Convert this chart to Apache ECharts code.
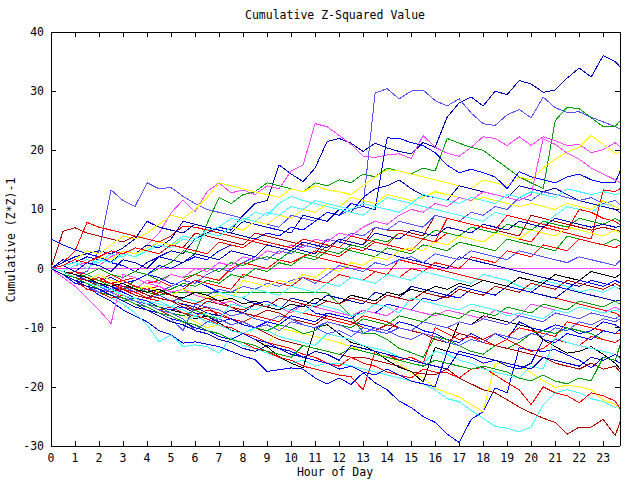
<!DOCTYPE html>
<html><head><meta charset="utf-8">
<script src="https://cdn.jsdelivr.net/npm/echarts@6/dist/echarts.min.js"></script>
<style>html,body{margin:0;padding:0;background:#fff}#c{width:640px;height:480px}#c svg path{shape-rendering:crispEdges}</style>
</head><body><div id="c"></div>
<script>
const hours = [0,0.5,1,1.5,2,2.5,3,3.5,4,4.5,5,5.5,6,6.5,7,7.5,8,8.5,9,9.5,10,10.5,11,11.5,12,12.5,13,13.5,14,14.5,15,15.5,16,16.5,17,17.5,18,18.5,19,19.5,20,20.5,21,21.5,22,22.5,23,23.5,23.7];
const xTickLabels = ['0','1','2','3','4','5','6','7','8','9','10','11','12','13','14','15','16','17','18','19','20','21','22','23'];
const yTickLabels = ['-30','-20','-10','0','10','20','30','40'];
const titleText = 'Cumulative Z-Squared Value';
const xName = 'Hour of Day';
const yName = 'Cumulative (Z*Z)-1';

const s01 = [0,-0.5,-1,-1.5,-2,-1,-1.5,-0.5,1,2,3,2.5,5,6,7,6.5,9,11,11.5,17.5,16,14.7,17,21.5,22,21.2,19.8,21.2,20.4,19.8,19.4,21.3,20.5,25.6,28,29,27.5,30,29.4,31.8,31.2,29.8,30.2,32.2,33.9,32.4,36,35,34.1];
const s02 = [0,-0.5,-1,-0.5,3,13.3,11.5,10.5,14.5,13.5,13.7,12.2,11,10,9.5,9,8.5,8,7.5,7,9,8.5,8,9.5,9,10,10.5,29.7,30.4,28.7,30,30.2,28.4,27.5,28.7,26.3,24.5,24.2,26,26.9,25.5,29,27.2,26.4,26.5,25.6,24.8,24,23.6];
const s03 = [0,-0.5,0.5,1,0.5,2,3,2.5,4,6,9.4,11.6,9.6,13,14.5,12.8,13.3,12.5,14,13.5,16.5,17.5,24.5,24,22.5,21,19,18.8,19.2,19.4,18.6,22.5,20.5,19.5,19,20.5,22.3,22,20.8,22.3,20.8,22.3,21.6,20.8,21,19.6,20.1,21.3,20.6];
const s04 = [0,-1,-2,-1.5,-3,-2.5,-3.5,-2,-1,0,1,3,2.5,7.6,12,11,12.5,13,14.5,14,13.5,13,14.5,14,15,14.5,16,15.5,17,16.5,16,17,16.5,22,21.2,20.5,20,18.5,17,15.5,14.5,13.5,25,27.3,27,25.5,24,24,25];
const s05 = [0,-1,-2.5,-3,-4.5,-5.5,-7,-8,-9,-10.5,-11.2,-12.6,-12.4,-12.8,-13.2,-14,-14.8,-15.4,-17.4,-17.1,-16.8,-17,-18.5,-19.5,-18.5,-19.6,-17.6,-19.3,-20.5,-22.4,-23.5,-25,-26,-28,-29.4,-25.5,-24.2,-20.2,-21,-13.4,-13.8,-14,-13.7,-14.6,-15.5,-16.8,-15,-15.5,-16];
const s06 = [0,-1,-2,-3,-4,-5,-6,-7.5,-9.5,-12.4,-11.2,-13.2,-12.9,-13.2,-14.3,-11.7,-13,-13.5,-14.3,-15,-16,-15.5,-16.5,-16,-16,-16.5,-17,-17.5,-18,-18.5,-19,-19.5,-20.5,-22,-22.5,-24,-25.3,-26.7,-27,-27.6,-26.8,-23,-21,-20.5,-21,-22,-22.5,-23.5,-23];
const s07 = [0,0.5,-0.5,-1,-2,-2.5,-3,-4,-3.5,-4.5,-5.5,-6,-7,-6.5,-8,-8.5,-9.5,-10,-11,-12,-12.5,-13,-13.5,-14,-14.5,-15,-15,-15.5,-16,-16.5,-17.5,-17.8,-18,-17,-18.5,-19.5,-20.5,-21,-22.2,-23.4,-24.4,-25.3,-26,-28,-26.8,-26.8,-25.5,-28.2,-26];
const s08 = [0,-1,-1.5,-2.5,-3,-4,-4.5,-5.5,-6,-7,-7.5,-8,-9,-10,-9.5,-10.5,-11,-12,-13,-10,-10.5,-11,-11.5,-12,-12.5,-13.2,-14,-14.5,-14.9,-16,-17.6,-18.5,-20.2,-21,-21.7,-23,-24.2,-16,-16,-16.5,-17.6,-19,-20.1,-19.7,-20,-20.5,-22.2,-23,-23.6];
const s09 = [0,-0.5,-1.5,-2,-3,-3.5,-4.5,-5,-5.5,-6.5,-7,-7.5,-8.5,-8,-9.2,-10.4,-11,-12,-13.2,-14.9,-16,-16.8,-10,-9.5,-11,-12.5,-13,-14,-15.5,-16.7,-17.4,-19.2,-13.3,-14,-9,-9.5,-8,-8.5,-9,-9.5,-10,-12,-13.2,-14.3,-14,-13.2,-14.5,-16,-17];
const s10 = [5,4,3.2,2.5,2,1,0.5,-0.5,-1,-1.5,-2.5,-3,-2,-3,-4,-4.5,-5,-6,-5.5,-6.5,-7,-6,-7.5,-8,-8.5,-9,-9.5,-10,-10.5,-9,-9.5,-10.5,-11,-12,-12.5,-11,-12,-11,-12,-9,-10,-10.5,-9.5,-10,-11,-10.5,-9,-9.5,-10];
const s11 = [0,0,0,0,0,0,0,0,0,0,0,0,0,0,0,0,0,0,0,0,0,0,0,0,0,0,0,0,0,0,0,0,0,0,0,0,0,0,0,0,0,0,0,0,0,0,0,0,0];
const s12 = [0,-0.5,-1,-2,-2.5,-3,-3.5,-3,-4,-4.5,-4.1,-4.1,-4.1,-4.1,-4.1,-4.1,-4.1,-4.1,-4.1,-4.1,-4.1,-4.1,-4.1,-4.1,-6,-8,-10.9,-11,-12,-13.5,-14.2,-15,-11.5,-12,-13,-14,-14.5,-13,-13.5,-12.5,-11,-10.5,-11,-10,-10.5,-11,-12,-12.5,-12];
const s13 = [0,6.3,6.9,6,5.5,5,4.5,5.5,5,4.5,4,3.5,6,5.5,5,4.5,4,6,5.5,5,4.5,4,3.5,3,5,4.5,4,7,6.5,6.5,6,5.5,9,8.5,8,7.5,7,6.5,6,5.5,9,8.5,8,7.5,7,6.5,7,6.5,6.3];
const s14 = [0,1,3,7.8,7,6.5,6,5.5,5,4.5,5.5,7.2,7,6.5,6,5.5,5,4.5,4,3.5,3,2.5,2,1.5,1,0.5,0,-0.5,-1,1.5,1,0.5,0,-0.5,-1,-1.5,-2,-2.5,-3,-3.5,-4,-4.5,-5,-5.5,-6,-6.5,-7,-7.5,-8];
const s15 = [0,1,2,2.5,3,2.5,3.5,5,8,7,6.5,6,7.5,7,6.5,6,5.5,5,4.5,4,3.5,3,2.5,5,4.5,4,3.5,3,2.5,2,1.5,1,0.5,0,2,1.5,1,0.5,0,-0.5,-1,-1.5,-2,-2.5,-3,-2,-2.5,-3,-3.5];
const s16 = [0,0.5,1.5,3,2.5,4,5.5,5,6,7.5,9,8.5,10,12,14.5,14,13.5,13,12.5,12,13.5,13,14,13.3,13,12.5,14,15.5,16.7,16.5,16,15.5,15,14.5,14,13.5,15,14.5,14,15.5,15,17,18.5,19.7,20.5,22.5,21,19.5,19.6];
const s17 = [0,-0.5,-1.5,-1,-2,-1.5,-2.5,-2,-1,0.5,0,1,2,1.5,3,4,3.5,5,6,5.5,7,6.5,8,9.5,9,11,10.5,10,22.1,22,21.3,20.8,19.6,17.5,16.2,16.8,16.2,15.5,13.5,16.4,15.5,15,14.5,15.5,16,15,14.5,14.5,16.4];
const s18 = [0,1.5,1,2,1.5,1,3,2.5,4,3.5,5,8,7.5,7,6.5,6,8,7.5,7,6.5,6,9,8.5,8,10,9.5,12,13.5,14,15,13.5,12.4,12,11.5,14,13.5,13,12.5,12,14,13.5,13,13.6,12.5,11.5,11,10.5,10,9.5];
const s19 = [0,-0.5,0.5,1.5,1,2.5,2,3.5,3,4.5,4,5.5,5,6.5,7,8.5,8,9.5,9,11,12.2,11.5,11,10.5,10,9.5,9,10.5,10,9.5,11,10.5,10,9.5,9,8.5,8,9.5,9,8.5,8,7.5,9,10.5,10,9.5,11,10.5,10];
const s20 = [0,-1,-0.5,-1.5,-2,-1,-2,-1.5,-2.5,-2,-3,-2,-1,-1.5,-2,0,1,0.5,0,1.5,1,2,3,2.5,2,3.5,3,4.5,4,3.5,3,5,4.5,6,5.5,5,4.5,6,5.5,5,4.5,7,6.5,6,5.5,5,13.3,13,13.5];
const s21 = [0,-1,-2,-3,-2.5,-3.5,-3,-4,-3.5,-4,-3,-2,-2.5,-1,0,-0.5,1,2,1.5,3,2.5,4,3.5,5,4.5,6,5.5,7,6.5,8,7.5,7,9,8.5,8,9.5,9,10.5,10,12,11.5,13,12.5,12,11.5,12,11,11.5,10.8];
const s22 = [0,0.5,-0.5,-1,0,-1,-1.5,-0.5,-1,-2,-1,-1.5,-1,0,-0.5,1,0.5,1.5,2,1.5,3,2.5,2,4,3.5,3,2.5,2,3.5,3,2.5,4,3.5,3,4.5,4,3.5,3,5,4.5,4,3.5,3,5.5,5,4.5,4,5,4.6];
const s23 = [0,-0.5,-1,-2,-1.5,-2.5,-2,-3,-3.5,-3,-4,-3.5,-2,-2.5,-3,-3.5,-1,-1.5,-2,-2.5,-3,-1.5,-2,-2.5,-1,-1.5,-2,-0.5,-1,-1.5,0,-0.5,1,0.5,0,2,1.5,1,3,2.5,2,4,3.5,3,5,4.5,4,3.5,4];
const s24 = [0,-1,-1.5,-2.5,-3,-4,-3.5,-4.5,-5,-4.5,-5.5,-5,-4,-4.5,-3.5,-4,-3,-3.5,-2.5,-3,-2,-1.5,-2.5,-1,0.5,0,-0.5,1,0.5,1.5,2,1,2.5,2,1.5,3,2.5,2,1.5,3,2.5,2,1.5,1,2,1.5,1,0.5,1.4];
const s25 = [0,-0.5,-1.5,-2,-3,-3.5,-4.5,-5,-5.5,-6,-6.5,-5,-5.5,-6,-4,-4.5,-5,-3.5,-4,-4.5,-3,-3.5,-4,-2.5,-3,-1.5,-2,-2.5,-1,-1.5,-2,-0.5,-1,-1.5,-2,-2.5,-1,-1.5,-2,-3,-3.5,-2,-2.5,-3,-4,-3.5,-4,-3,-3.6];
const s26 = [0,-1,-2,-1.5,-2.5,-3,-4,-5,-5.5,-6.5,-7,-6,-6.5,-7.5,-8,-7,-7.5,-6,-6.5,-7,-5,-5.5,-6,-4.5,-5,-5.5,-6,-4,-4.5,-5,-3,-3.5,-4,-4.5,-3,-3.5,-4,-4.5,-3,-3.5,-4,-4.5,-5,-3.5,-4,-4.5,-5,-5.5,-5.3];
const s27 = [0,-1,-2,-3.5,-4,-5,-4.5,-5.5,-6,-7,-6.5,-7.5,-8,-7,-7.5,-8.5,-9,-8,-8.5,-9,-7,-7.5,-8,-8.5,-9,-9.5,-8,-8.5,-9,-10,-10.5,-9,-9.5,-10,-11,-11.5,-12,-11,-11.5,-10,-10.5,-11,-11.5,-9,-9.5,-10,-10.5,-11,-11];
const s28 = [0,-0.5,-1.5,-2,-3,-3.5,-4.5,-5,-6,-7,-8,-9,-9.5,-10.5,-11,-12,-12.5,-13.5,-14,-15,-15.5,-16.5,-17,-17.5,-18,-18.3,-20.5,-14,-14.5,-15.5,-15,-16,-10,-11,-12,-11.5,-12.5,-13,-12,-13,-14,-13.5,-12,-12.5,-13,-11.5,-12,-12.5,-12];
const s29 = [0,0.5,-0.5,-1,-2,-2.5,-3.5,-4,-5,-5.5,-6.5,-7,-8,-8.5,-9.5,-10,-11,-11.5,-12.5,-13,-13.5,-14.5,-15,-16,-16.5,-15,-16,-16.5,-17.5,-18,-18.5,-17,-17.5,-17.6,-18.5,-17,-16.7,-18,-19.3,-20.5,-23,-20,-21,-21.5,-22.7,-21,-21.5,-22.4,-23.7];
const s30 = [0,-1,-1.5,-2.5,-3.5,-4,-5,-6,-6.5,-7.5,-8,-9,-8,-9,-9.5,-10.5,-11,-10,-10.5,-11.5,-12,-12.5,-13,-11,-11.5,-12,-13,-13.5,-14,-15,-15.5,-16,-14,-14.5,-15.5,-16,-17,-17.5,-18,-18.5,-16.5,-17,-11.7,-12.5,-13,-13.5,-14,-14.5,-15];
const s31 = [0,-1,-2,-2.5,-3.5,-4,-3,-3.5,-4.5,-5,-5.5,-6.5,-7,-5.5,-6,-6.5,-7.5,-8,-7,-7.5,-8.5,-9,-9.5,-8,-8.5,-9,-10,-10.5,-9.5,-10,-10.5,-11,-12,-12.5,-11,-11.5,-12,-13,-13.5,-14,-14.5,-15,-16,-16.5,-17,-16,-17,-16.5,-17.5];
const s32 = [0,0.5,-0.5,1,2,1.5,3,2.5,3.5,4.5,4,5,4.5,6,5.5,7,6.5,8,7.5,9,8.5,10,9.5,11,10.5,12,11.5,11,12.5,12,11.5,12,13,12.5,12,11.5,12,11.5,11,10.5,11,10.5,10,11,10.5,10,11.5,10.5,10];
const s33 = [0,-0.5,-1.5,-1,-2,-3,-2.5,-3.5,-3,-4,-3.5,-2.5,-3,-2,-2.5,-1,-1.5,0,-0.5,1,0.5,2,1.5,3,2.5,4,3.5,5,4.5,6,5.5,5,6.5,6,5.5,7,6.5,6,7.5,7,6.5,8,7.5,7,8.5,8,7.5,8.5,8];
const s34 = [0,-1,-2,-1.5,-2.5,-3,-2.5,-3.5,-2,-2.5,-1,-1.5,0,-0.5,1,0.5,2,1.5,3,2.5,4,3.5,5,4.5,6,5.5,7,8,7.5,9,10,9.5,11,10.5,12,11.5,13,12.5,12,11.5,12.5,22,21,19.5,18.5,17,16,15,14.5];
const s35 = [0,-0.5,-1,-2,-2.5,-3.5,-4,-5,-5.5,-6.5,-7,-6.5,-7.5,-8,-9,-8.5,-9.5,-10,-9,-9.5,-8,-8.5,-9,-7.5,-8,-8.5,-7,-7.5,-6,-6.5,-7,-5,-5.5,-4.5,-5,-3.5,-4,-4.5,-3,-3.5,-4,-2.5,-3,-3.5,-2,-2.5,-3,-2,-2.4];
const s36 = [0,0.5,1,0,1.5,1,2.5,2,3,4,3.5,5,4.5,6,5.5,7,8.5,8,9.5,9,10.5,10,11.5,11,10.5,10,11,10.5,12,11.5,11,12.5,12,11.5,11,12,11.5,11,12.5,12,13,12.5,12,13.5,13,12.5,13,12.5,12.8];
const s37 = [0,-1.5,-3,-5,-7,-9.3,-1,-1.5,-2.5,-3,-4,-3.5,-4.5,-5,-6,-5.5,-6.5,-7,-6,-6.5,-7.5,-6,-6.5,-7,-7.5,-8,-7,-7.5,-8,-6.5,-7,-7.5,-8,-7,-7.5,-8,-8.5,-7,-7.5,-8,-6,-6.5,-7,-7.5,-6.5,-7,-7.5,-6.5,-7];
const s38 = [0,-0.5,-1.5,-2,-1,-2,-2.5,-3.5,-3,-4,-4.5,-3.5,-4,-5,-4.5,-5.5,-2,-2.5,-3,-2,-2.5,-1,-1.5,0,-0.5,1,0.5,2,1.5,3,3.5,3,4.5,4,5.5,5,4.5,6,5.5,5,6.5,6,5.5,7,6.5,6,5.5,6.5,6];
const s39 = [0,-1,-2,-3,-4,-4.5,-5.5,-5,-6,-6.5,-7.5,-8,-7,-8,-8.5,-9.5,-9,-10,-10.5,-9.5,-10,-11,-10.5,-9,-9.5,-10,-8.5,-9,-9.5,-8,-8.5,-9,-7.5,-8,-8.5,-7,-7.5,-8,-6.5,-7,-7.5,-6,-6.5,-7,-5.5,-6,-6.5,-5.5,-6];
const s40 = [0,-1,-2,-3,-4,-3.5,-4.5,-5.5,-6,-7,-7.5,-8.5,-10.5,-9,-8.5,-9.5,-9,-10,-9.5,-10.5,-9,-9.5,-10,-11,-10.5,-11.5,-10,-10.5,-11,-10,-10.5,-9,-9.5,-10,-9,-9.5,-8.5,-9,-9.5,-8,-8.5,-9,-7.5,-8,-8.5,-7.5,-8,-8.5,-8];
const s41 = [0,-0.5,-1,-1.5,-2.5,-3,-2.5,-3.5,-4,-3.5,-4.5,-5,-4,-4.5,-5.5,-5,-6,-5.5,-6.5,-7,-6,-6.5,-5,-5.5,-6,-4.5,-5,-5.5,-4,-4.5,-3.5,-4,-3,-3.5,-2.5,-3,-2,-2.5,-3,-1.5,-2,-2.5,-1,-1.5,-2,-0.5,-1,-1.5,-1];
const s42 = [0,0.5,-0.5,1,0.5,-0.5,1.5,1,0,2,1.5,1,2.5,2,1.5,3,2.5,2,4,3.5,3,4.5,4,3.5,5,4.5,4,6,5.5,5,6.5,6,5.5,7,6.5,6,7.5,7,6.5,8,7.5,7,8.5,8,7.5,7,7.5,7,7.1];
const s43 = [0,-0.5,-1.5,-2,-3,-4,-3.5,-4.5,-5,-4,-4.5,-5.5,-6,-5,-5.5,-6.5,-7,-6,-6.5,-5,-5.5,-6,-6.5,-5.5,-6,-5,-5.5,-6,-4.5,-5,-5.5,-4,-4.5,-5,-3.5,-4,-4.5,-3,-3.5,-4,-2.5,-3,-3.5,-2,-2.5,-3,-3.5,-2.5,-3];
const s44 = [0,-1,-2,-2.5,-3.5,-4.5,-5,-6,-7,-7.5,-8.5,-9,-10,-10.5,-11.5,-12,-11,-12,-12.5,-13.5,-14,-15,-15.5,-16,-17,-16.5,-17.5,-18,-17,-18,-19,-19.5,-20,-14,-14.5,-15,-16,-15.5,-16.5,-17,-16,-12,-12.5,-11,-11.5,-12,-10.5,-11,-10.3];
const s45 = [0,0.5,1.5,1,2,3,2.5,3.5,3,2.5,4,3.5,3,2.5,4.5,4,3.5,5,4.5,4,3.5,5,4.5,4,3.5,5.5,5,4.5,4,6,5.5,5,4.5,8.5,8,7.5,7,6.5,9,8.5,8,7.5,7,6.5,10,9.5,8.5,8,7.4];
const s46 = [0,-0.5,-1.5,-2.5,-3,-4,-5,-5.5,-6.5,-7.5,-8.5,-10.5,-6,-6.5,-7,-8,-7.5,-8.5,-9,-8,-8.5,-9.5,-10,-9,-9.5,-10.5,-11,-10,-10.5,-11.5,-12,-11,-11.5,-12.5,-13,-12,-12.5,-11,-11.5,-12,-11,-11.5,-10,-10.5,-9,-9.5,-8.5,-9,-8.5];
const s47 = [0,-0.5,-1.5,-2.5,-3,-3.5,-4.5,-5,-6,-5.5,-6.5,-7,-8,-7.5,-8.5,-6,-6.5,-7,-6,-6.5,-7,-7.5,-6,-6.5,-7,-8,-7.5,-6,-6.5,-7.5,-5,-5.5,-6,-6.5,-7,-6,-6.5,-7,-8,-7.5,-8,-8.5,-7,-7.5,-6.5,-7,-7.5,-7,-7.3];
const s48 = [0,-1,-1.5,-2.5,-3.5,-4.5,-5,-6,-6.5,-7.5,-8,-9,-9.5,-10.5,-11,-12,-12.5,-13,-14,-14.5,-15,-13,-13.5,-14,-14.5,-13.5,-14,-14.5,-15,-15.5,-16,-16.5,-15.5,-16,-16.5,-17,-16.5,-17,-17.5,-18.5,-19,-18,-19,-19.5,-18.5,-19,-15,-15.5,-13];
const s49 = [0,-1,-2,-3,-3.5,-4.5,-5.5,-6.5,-7,-8,-9,-9.5,-10.5,-11,-12,-12.5,-13.5,-14,-13,-13.5,-14.5,-15,-14,-14.5,-15.5,-13,-13.5,-14,-14.5,-15,-15.5,-16,-16.5,-17,-14,-14.5,-15,-15.5,-16,-16.5,-17,-15,-15.5,-16,-16.5,-15,-15.5,-14.5,-15];

const allSeries = [s01,s02,s03,s04,s05,s06,s07,s08,s09,s10,s11,s12,s13,s14,s15,s16,s17,s18,s19,s20,s21,s22,s23,s24,s25,s26,s27,s28,s29,s30,s31,s32,s33,s34,s35,s36,s37,s38,s39,s40,s41,s42,s43,s44,s45,s46,s47,s48,s49];

const C = {red:'#ff0000', dred:'#b00000', green:'#00a000', blue:'#0000ff', navy:'#0000b8', lblue:'#5555ff', mag:'#ff44ff', cyan:'#44ffff', yel:'#ffff00', blk:'#000000'};
const colorOf = [C.navy,C.lblue,C.mag,C.green,C.blue,C.cyan,C.dred,C.yel,C.blk,C.blue,
  C.mag,C.green,C.dred,C.red,C.navy,C.yel,C.blue,C.navy,C.cyan,C.red,
  C.lblue,C.green,C.red,C.lblue,C.cyan,C.navy,C.red,C.red,C.red,C.cyan,
  C.dred,C.yel,C.green,C.mag,C.blue,C.cyan,C.mag,C.yel,C.green,C.lblue,
  C.blk,C.navy,C.dred,C.blue,C.red,C.lblue,C.cyan,C.green,C.navy];

const FONT = 'DejaVu Sans Mono';
const chart = echarts.init(document.getElementById('c'), null, {renderer:'svg'});

const series = allSeries.map((vals, i) => ({
  type: 'line',
  data: vals.map((v, j) => [hours[j], v]),
  showSymbol: false,
  symbol: 'none',
  lineStyle: {width: 1, color: colorOf[i]},
  itemStyle: {color: colorOf[i]},
  silent: true,
  animation: false,
  z: 2
}));

const xLabel = v => (Number.isInteger(v) && xTickLabels.includes(String(v))) ? String(v) : '';
const yLabel = v => yTickLabels.includes(String(v)) ? String(v) : '';
const axLine = {show: true, onZero: false, lineStyle: {color: '#000', width: 1}};
const axTick = {show: true, inside: true, length: 5, lineStyle: {color: '#000', width: 1}};
const txtStyle = {font: '11.5px "DejaVu Sans Mono"', fill: '#000', textAlign: 'center', textVerticalAlign: 'middle'};

chart.setOption({
  backgroundColor: '#ffffff',
  animation: false,
  graphic: [
    {type: 'text', x: 335, y: 15, style: Object.assign({text: titleText}, txtStyle)},
    {type: 'text', x: 335, y: 472, style: Object.assign({text: xName}, txtStyle)},
    {type: 'text', x: 11, y: 240, rotation: Math.PI / 2, style: Object.assign({text: yName}, txtStyle)}
  ],
  grid: {left: 51, right: 20, top: 32, bottom: 34, containLabel: false, outerBoundsMode: 'none'},
  xAxis: [{
    type: 'value', min: 0, max: 23.7, interval: 1,
    axisLine: axLine, axisTick: axTick,
    axisLabel: {formatter: xLabel, fontFamily: FONT, fontSize: 11.5, color: '#000', margin: 6, showMaxLabel: false},
    splitLine: {show: false}
  }, {
    type: 'value', min: 0, max: 23.7, interval: 1, position: 'top',
    axisLine: axLine, axisTick: axTick,
    axisLabel: {show: false}, splitLine: {show: false}
  }],
  yAxis: [{
    type: 'value', min: -30, max: 40, interval: 10,
    axisLine: axLine, axisTick: axTick,
    axisLabel: {formatter: yLabel, fontFamily: FONT, fontSize: 11.5, color: '#000', margin: 7},
    splitLine: {show: false}
  }, {
    type: 'value', min: -30, max: 40, interval: 10, position: 'right',
    axisLine: axLine, axisTick: axTick,
    axisLabel: {show: false}, splitLine: {show: false}
  }],
  series: series
});
</script>
</body></html>
